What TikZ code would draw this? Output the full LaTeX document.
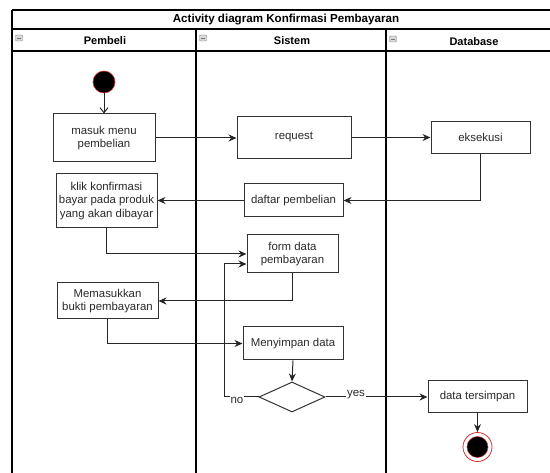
\documentclass[tikz,border=0pt]{standalone}
\usepackage{fontspec}
\setmainfont{Liberation Sans}
\usetikzlibrary{arrows.meta,shapes.geometric}
\definecolor{txt}{HTML}{2A2A2A}
\definecolor{ring}{HTML}{D03030}
\tikzset{
  act/.style={draw=black!80, line width=1pt, rectangle, inner sep=1pt, align=center,
    font=\fontsize{11.4}{13.4}\selectfont, text=txt, fill=white},
  flow/.style={draw=black!85, line width=1pt, -{Stealth[length=8pt,width=7pt]}},
  lane/.style={draw=black, line width=1.8pt},
  hdr/.style={font=\bfseries\fontsize{11}{13}\selectfont},
  lbl/.style={font=\fontsize{11.5}{13}\selectfont, text=txt, fill=white, inner sep=1pt},
  icon/.style={draw=black!50, fill=black!15, rounded corners=1pt, minimum width=7pt, minimum height=6pt, inner sep=0pt}
}
\begin{document}
\begin{tikzpicture}[x=1pt,y=-1pt]
\useasboundingbox (0,0) rectangle (550,473);
\clip (0,0) rectangle (550,473);
% frame and lanes
\draw[lane] (12,10) -- (560,10);
\draw[lane] (12,29) -- (560,29);
\draw[lane] (12,51) -- (560,51);
\draw[lane] (12,10) -- (12,480);
\draw[lane] (196,29) -- (196,480);
\draw[lane] (386,29) -- (386,480);
\draw[lane] (560,10) -- (560,480);
\node[hdr, font=\bfseries\fontsize{11.6}{13}\selectfont] (title) at (286,19.5) {Activity diagram Konfirmasi Pembayaran};
\node[hdr] (h1) at (105,40.5) {Pembeli};
\node[hdr] (h2) at (292,40.5) {Sistem};
\node[hdr] (h3) at (474,42) {Database};
\node[icon] (i1) at (19,38) {}; \draw[black!55, line width=0.8pt] ([xshift=-2pt]i1.center) -- ([xshift=2pt]i1.center);
\node[icon] (i2) at (203,38) {}; \draw[black!55, line width=0.8pt] ([xshift=-2pt]i2.center) -- ([xshift=2pt]i2.center);
\node[icon] (i3) at (393,39) {}; \draw[black!55, line width=0.8pt] ([xshift=-2pt]i3.center) -- ([xshift=2pt]i3.center);

% nodes
\node[circle, fill=black, draw=ring, line width=0.6pt, minimum size=22pt, inner sep=0pt] (start) at (104,82) {};
\node[act, minimum width=102pt, minimum height=48pt] (masuk) at (104,138) {masuk menu\\pembelian};
\node[act, minimum width=114pt, minimum height=42pt] (request) at (294,137.5) {request};
\node[act, minimum width=99pt, minimum height=32pt] (eksekusi) at (480.5,137.5) {eksekusi};
\node[act, minimum width=99pt, minimum height=33pt] (daftar) at (293.5,200.5) {daftar pembelian};
\node[act, minimum width=101pt, minimum height=54pt] (klik) at (106.5,201) {klik konfirmasi\\bayar pada produk\\yang akan dibayar};
\node[act, minimum width=91pt, minimum height=38pt] (form) at (292.5,254) {form data\\pembayaran};
\node[act, minimum width=101pt, minimum height=36pt] (masukkan) at (107.5,301) {Memasukkan\\bukti pembayaran};
\node[act, minimum width=100pt, minimum height=33pt] (simpan) at (293,343.5) {Menyimpan data};
\node[diamond, draw=black!80, line width=1pt, minimum width=66pt, minimum height=30pt, inner sep=0pt, aspect=2.2, fill=white] (dec) at (292,397) {};
\node[act, minimum width=99pt, minimum height=32pt] (tersimpan) at (477.5,397) {data tersimpan};
\node[circle, draw=ring, line width=0.8pt, fill=white, minimum size=29pt, inner sep=0pt] (end) at (477.5,447) {};
\node[circle, fill=black, draw=ring, line width=0.5pt, minimum size=21pt, inner sep=0pt] at (end.center) {};

% connectors
\draw[draw=black!85, line width=1pt, -{Straight Barb[length=5pt,width=8pt]}] (start) -- (masuk);
\draw[flow] (masuk.east) -- (masuk.east -| request.west);
\draw[flow] (request.east) -- (request.east -| eksekusi.west);
\draw[flow] (eksekusi.south) |- (daftar.east);
\draw[flow] (daftar.west) -- (daftar.west -| klik.east);
\draw[flow] (klik.south) |- (form.west);
\draw[flow] (form.south) |- (masukkan.east);
\draw[flow] (masukkan.south) |- (simpan.west);
\draw[flow] (simpan.south) -- (dec.north);
\coordinate (nocorner) at (224,397);
\coordinate (formin) at ([yshift=-10pt]form.west);
\draw[flow] (dec.west) -- (nocorner) -- (nocorner |- formin) -- (formin);
\draw[flow] (dec.east) -- (tersimpan.west);
\draw[flow] (tersimpan.south) -- (end.north);
\node[lbl] (no) at (237,400) {no};
\node[lbl] (yes) at (356,395) {yes};
\end{tikzpicture}
\end{document}
